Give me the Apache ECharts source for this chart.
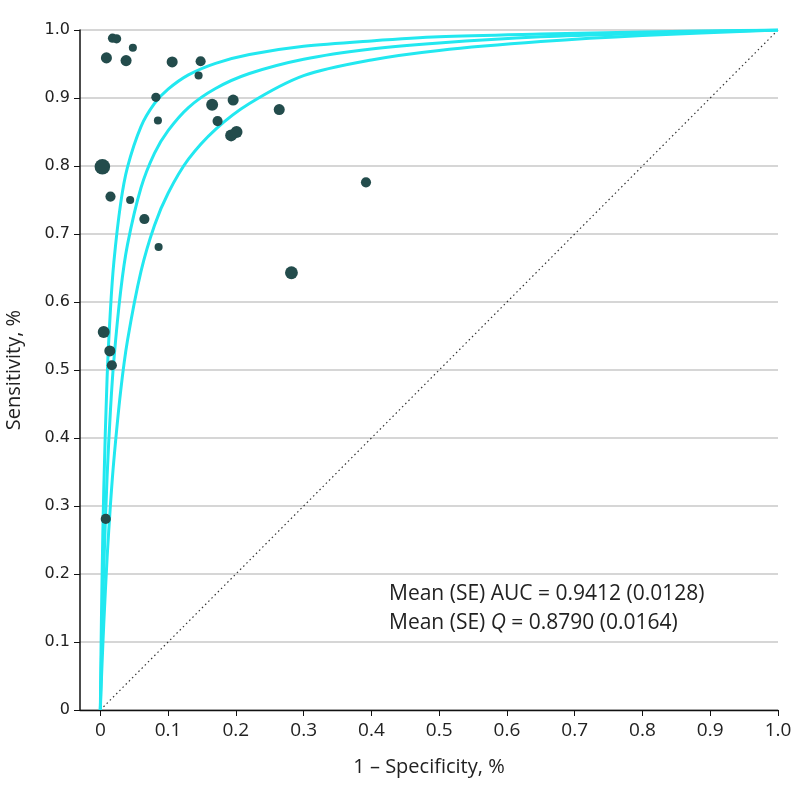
<!DOCTYPE html>
<html>
<head>
<meta charset="utf-8">
<script src="https://cdn.jsdelivr.net/npm/echarts@6/dist/echarts.min.js"></script>
<style>html,body{margin:0;padding:0;background:#fff}#c{width:794px;height:794px}</style>
</head>
<body>
<div id="c"></div>
<script>
// Study points: 1 - specificity, sensitivity, relative study weight
const studyFPR = [0.009, 0.018, 0.024, 0.048, 0.038, 0.106, 0.148, 0.145, 0.082, 0.085, 0.165, 0.196, 0.173, 0.193, 0.201, 0.264, 0.003, 0.015, 0.044, 0.065, 0.086, 0.392, 0.282, 0.005, 0.014, 0.017, 0.008];
const studySens = [0.959, 0.988, 0.987, 0.974, 0.955, 0.953, 0.954, 0.933, 0.901, 0.867, 0.890, 0.897, 0.866, 0.845, 0.850, 0.883, 0.799, 0.755, 0.750, 0.722, 0.681, 0.776, 0.643, 0.556, 0.528, 0.507, 0.281];
const studyWeight = [0.45, 0.25, 0.25, 0.12, 0.45, 0.45, 0.35, 0.12, 0.25, 0.12, 0.55, 0.45, 0.35, 0.55, 0.55, 0.45, 0.95, 0.35, 0.12, 0.35, 0.12, 0.35, 0.65, 0.55, 0.45, 0.35, 0.35];

// SROC curve and bounds
const curveFPR = [0, 0.001, 0.0025, 0.005, 0.01, 0.015, 0.02, 0.03, 0.04, 0.06, 0.08, 0.1, 0.13, 0.17, 0.22, 0.3, 0.4, 0.5, 0.65, 0.8, 1.0];
const upperSens = [0, 0.087, 0.192, 0.322, 0.489, 0.590, 0.659, 0.745, 0.798, 0.858, 0.892, 0.913, 0.934, 0.951, 0.964, 0.976, 0.984, 0.990, 0.994, 0.997, 1.0];
const midSens   = [0, 0.049, 0.115, 0.207, 0.344, 0.442, 0.515, 0.616, 0.684, 0.768, 0.819, 0.852, 0.886, 0.914, 0.936, 0.957, 0.972, 0.981, 0.990, 0.995, 1.0];
const lowerSens = [0, 0.028, 0.067, 0.125, 0.224, 0.303, 0.368, 0.469, 0.543, 0.645, 0.713, 0.760, 0.810, 0.854, 0.892, 0.933, 0.956, 0.970, 0.983, 0.992, 1.0];

const tickVals = [0, 0.1, 0.2, 0.3, 0.4, 0.5, 0.6, 0.7, 0.8, 0.9, 1.0];
const diagonal = [[0, 0], [1, 1]];

const fmt = v => (Math.abs(v) < 1e-9 ? '0' : v.toFixed(1));
const pair = (xs, ys) => xs.map((x, i) => [x, ys[i]]);
const cyan = '#22e8f0';
const curveStyle = { color: cyan, width: 3 };
const txtFont = 'Open Sans';

const chart = echarts.init(document.getElementById('c'), null, { renderer: 'canvas' });
chart.setOption({
  animation: false,
  grid: { left: 80, right: 16, top: 30, bottom: 84, containLabel: false, outerBoundsMode: 'none' },
  xAxis: {
    type: 'value', min: -0.03, max: 1,
    name: '1 \u2013 Specificity, %', nameLocation: 'middle', nameGap: 47,
    nameTextStyle: { fontFamily: txtFont, fontSize: 20, color: '#222' },
    axisLine: { onZero: false, lineStyle: { color: '#111', width: 1.3 } },
    axisTick: { show: true, customValues: tickVals, length: 6, lineStyle: { color: '#111' } },
    axisLabel: { customValues: tickVals, formatter: fmt, fontFamily: txtFont, fontSize: 19, color: '#222', margin: 11 },
    splitLine: { show: false }
  },
  yAxis: {
    type: 'value', min: 0, max: 1, interval: 0.1, position: 'left',
    name: 'Sensitivity, %', nameLocation: 'middle', nameGap: 56, nameRotate: 90,
    nameTextStyle: { fontFamily: txtFont, fontSize: 20, color: '#222' },
    axisLine: { show: true, onZero: false, lineStyle: { color: '#111', width: 1.5 } },
    axisTick: { show: true, length: 6, lineStyle: { color: '#111' } },
    axisLabel: { formatter: fmt, fontFamily: 'DejaVu Sans', fontSize: 16, color: '#222', margin: 10 },
    splitLine: { show: true, lineStyle: { color: '#d6d6d6', width: 2 } }
  },
  series: [
    { type: 'line', data: diagonal, symbol: 'none', lineStyle: { color: '#333', width: 1.2, type: [1.5, 3] }, z: 1 },
    { type: 'line', data: pair(curveFPR, upperSens), smooth: 0.3, symbol: 'none', lineStyle: curveStyle, z: 2 },
    { type: 'line', data: pair(curveFPR, midSens), smooth: 0.3, symbol: 'none', lineStyle: curveStyle, z: 2 },
    { type: 'line', data: pair(curveFPR, lowerSens), smooth: 0.3, symbol: 'none', lineStyle: curveStyle, z: 2 },
    {
      type: 'scatter', z: 5,
      data: studyFPR.map((x, i) => [x, studySens[i], studyWeight[i]]),
      symbolSize: d => 7 + 9 * d[2],
      itemStyle: { color: '#234c4c', opacity: 1 }
    }
  ],
  graphic: [
    {
      type: 'text', left: 389, top: 580,
      style: {
        text: '{n|Mean (SE) AUC = 0.9412 (0.0128)}\n{n|Mean (SE) }{q|Q}{n| = 0.8790 (0.0164)}',
        fontFamily: txtFont, fontSize: 21, fill: '#222', lineHeight: 29,
        rich: {
          n: { fontFamily: txtFont, fontSize: 21, fill: '#222', lineHeight: 29 },
          q: { fontFamily: txtFont, fontSize: 21, fontStyle: 'italic', fill: '#222', lineHeight: 29 }
        }
      }
    }
  ]
});
</script>
</body>
</html>
